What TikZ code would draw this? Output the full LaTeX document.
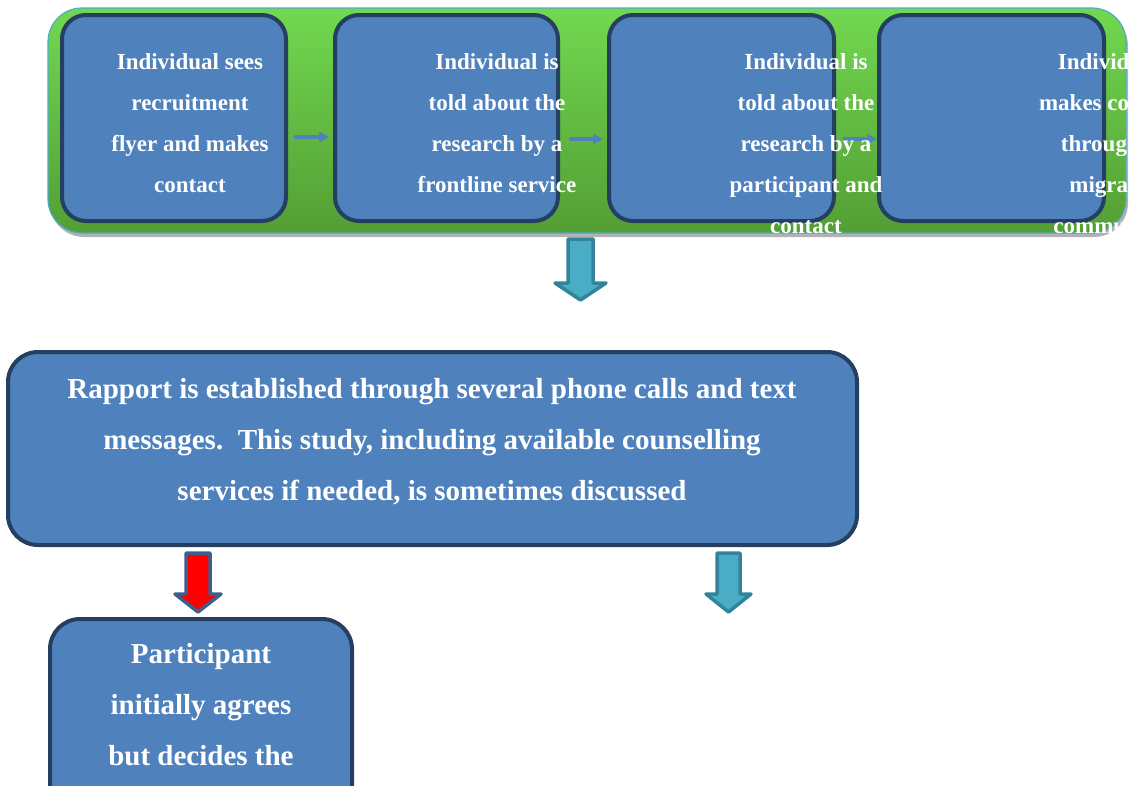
\documentclass[tikz,border=0pt]{standalone}
\usepackage{fontspec}
\setmainfont{Liberation Serif}
\usetikzlibrary{arrows.meta,shadows}
\definecolor{boxblue}{HTML}{4F81BD}
\definecolor{boxdark}{HTML}{243F60}
\definecolor{gtop}{HTML}{72D850}
\definecolor{gbot}{HTML}{539E34}
\definecolor{ccyan}{HTML}{4BACC6}
\definecolor{cteal}{HTML}{31849B}
\definecolor{arrblue}{HTML}{4F81BD}
\definecolor{redborder}{HTML}{3C5F8F}
\tikzset{
  stepbox/.style={draw=boxdark, line width=4pt, fill=boxblue, rounded corners=24pt},
  smalltxt/.style={text=white, font=\fontsize{23}{41}\selectfont\bfseries, align=center, inner sep=0pt},
  bigtxt/.style={text=white, font=\fontsize{29}{51}\selectfont\bfseries, align=center, inner sep=0pt},
  flowarrow/.style={draw=arrblue, line width=3.5pt, -{Triangle[length=10pt,width=10pt]}},
}
\begin{document}
\begin{tikzpicture}[x=1pt,y=-1pt]
\useasboundingbox (0,0) rectangle (1133,785);
% container shadow and body
\fill[gray!60, rounded corners=34pt] (50,12) rectangle (1128,237);
\path[top color=gtop, bottom color=gbot, draw=ccyan, line width=1.2pt, rounded corners=34pt] (48,8) rectangle (1126,233);
% step boxes
\path[stepbox] (62,15) rectangle (286,221);
\path[stepbox] (335,15) rectangle (558,221);
\path[stepbox] (609,15) rectangle (834,221);
\path[stepbox] (879,15) rectangle (1104,221);
% small flow arrows
\coordinate (a1s) at (294,137); \coordinate (a1e) at (329,137);
\coordinate (a2s) at (569,139); \coordinate (a2e) at (603,139);
\coordinate (a3s) at (843,139); \coordinate (a3e) at (877,139);
\draw[flowarrow] (a1s) -- (a1e);
\draw[flowarrow] (a2s) -- (a2e);
\draw[flowarrow] (a3s) -- (a3e);
% big down arrow 1
\path[fill=ccyan, draw=cteal, line width=3.5pt, line join=round]
  (568,239) -- (593,239) -- (593,283) -- (606,283) -- (580.5,300) -- (555,283) -- (568,283) -- cycle;
% main box
\path[stepbox, rounded corners=30pt] (8,352) rectangle (857,545);
\node[bigtxt] (main) at (432,442) {Rapport is established through several phone calls and text\\messages.\ \ This study, including available counselling\\services if needed, is sometimes discussed};
% red arrow
\path[fill=red, draw=redborder, line width=3.5pt, line join=round]
  (186,553) -- (210,553) -- (210,594) -- (221,594) -- (198,612) -- (175,594) -- (186,594) -- cycle;
% teal arrow 2
\path[fill=ccyan, draw=cteal, line width=3.5pt, line join=round]
  (717,553) -- (740,553) -- (740,594) -- (751,594) -- (728.5,612) -- (706,594) -- (717,594) -- cycle;
% bottom box
\path[stepbox, rounded corners=30pt] (50,619) rectangle (352,820);
\node[bigtxt, anchor=north] (part) at (201,643) {Participant\\initially agrees\\but decides the};
% texts in top boxes
\node[smalltxt] (t1) at (190,123) {Individual sees\\recruitment\\flyer and makes\\contact};
\node[smalltxt] (t2) at (497,123) {Individual is\\told about the\\research by a\\frontline service};
\node[smalltxt] (t3) at (806,144) {Individual is\\told about the\\research by a\\participant and\\contact};
\begin{scope}
\clip (0,0) rectangle (1127,785);
\node[smalltxt] (t4) at (1109,146) {Individual\\makes contact\\through a\\migrant\\community};
\end{scope}
\end{tikzpicture}
\end{document}
